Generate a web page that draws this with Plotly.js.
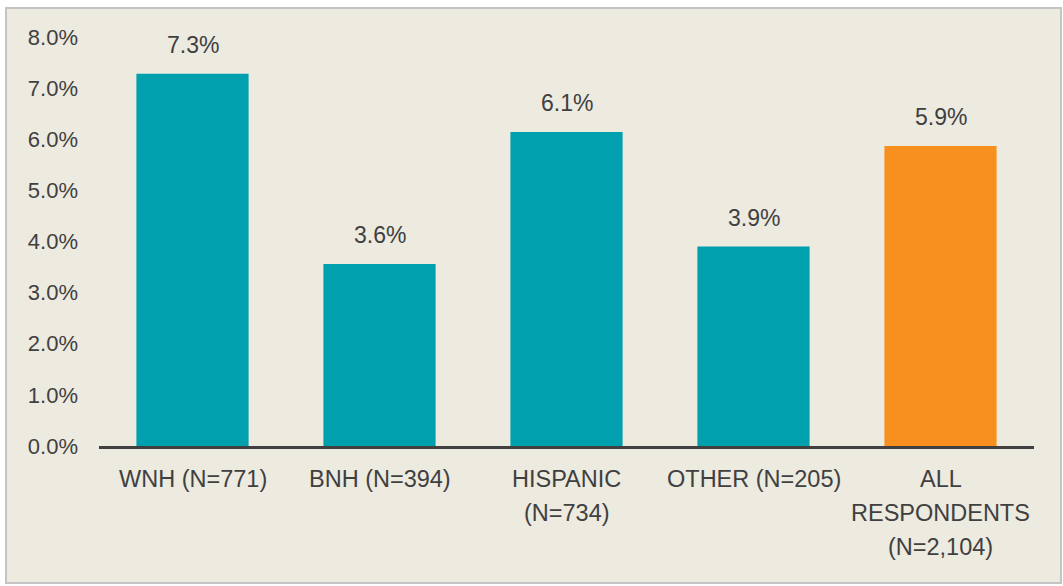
<!DOCTYPE html>
<html>
<head>
<meta charset="utf-8">
<script src="https://cdn.plot.ly/plotly-3.0.1.min.js"></script>
<style>
html,body{margin:0;padding:0;background:#ffffff;}
#frame{position:absolute;left:5px;top:7px;width:1053px;height:573px;border:2px solid #c4c4c4;background:#edeae0;}
#chart{position:absolute;left:0;top:0;width:1063px;height:586px;}
</style>
</head>
<body>
<div id="frame"></div>
<div id="chart"></div>
<script>
const categories = ["WNH (N=771)", "BNH (N=394)", "HISPANIC<br>(N=734)", "OTHER (N=205)", "ALL<br>RESPONDENTS<br>(N=2,104)"];
const values = [7.28, 3.56, 6.14, 3.9, 5.87];
const labels = ["7.3%", "3.6%", "6.1%", "3.9%", "5.9%"];
const barColors = ["#00a0ae", "#00a0ae", "#00a0ae", "#00a0ae", "#f7901e"];
const yTicks = [0, 1, 2, 3, 4, 5, 6, 7, 8];
const yTickText = ["0.0%", "1.0%", "2.0%", "3.0%", "4.0%", "5.0%", "6.0%", "7.0%", "8.0%"];

const family = "Liberation Sans, Arial, sans-serif";
const tickFont = {family: family, size: 22, color: "#404040"};
const valueFont = {family: family, size: 23, color: "#404040"};
const catFont = {family: family, size: 23.5, color: "#404040"};

const trace = {
  type: "bar",
  x: categories,
  y: values,
  marker: {color: barColors, line: {width: 0}},
  width: 0.6,
  hoverinfo: "skip"
};

const annotations = categories.map((c, i) => ({
  x: c, y: values[i], xref: "x", yref: "y",
  text: labels[i], showarrow: false, yanchor: "bottom", yshift: 14,
  font: valueFont
}));

// category labels, one annotation per line for exact line spacing
categories.forEach((c) => {
  c.split("<br>").forEach((line, k) => {
    annotations.push({
      x: c, y: 0, xref: "x", yref: "paper",
      text: line, showarrow: false, yanchor: "middle",
      yshift: -(33 + 34 * k), font: catFont
    });
  });
});

const layout = {
  width: 1063, height: 586,
  margin: {l: 99, r: 29, t: 37, b: 140},
  paper_bgcolor: "rgba(0,0,0,0)",
  plot_bgcolor: "rgba(0,0,0,0)",
  font: tickFont,
  showlegend: false,
  bargap: 0.4,
  xaxis: {
    type: "category",
    showline: true, linecolor: "#404040", linewidth: 3,
    ticks: "", showgrid: false, zeroline: false,
    showticklabels: false
  },
  yaxis: {
    range: [0, 8],
    tickvals: yTicks, ticktext: yTickText,
    showgrid: false, zeroline: false, showline: false, ticks: "",
    tickfont: tickFont, ticklabelstandoff: 20
  },
  annotations: annotations
};

Plotly.newPlot("chart", [trace], layout, {displayModeBar: false, staticPlot: true});
</script>
</body>
</html>
